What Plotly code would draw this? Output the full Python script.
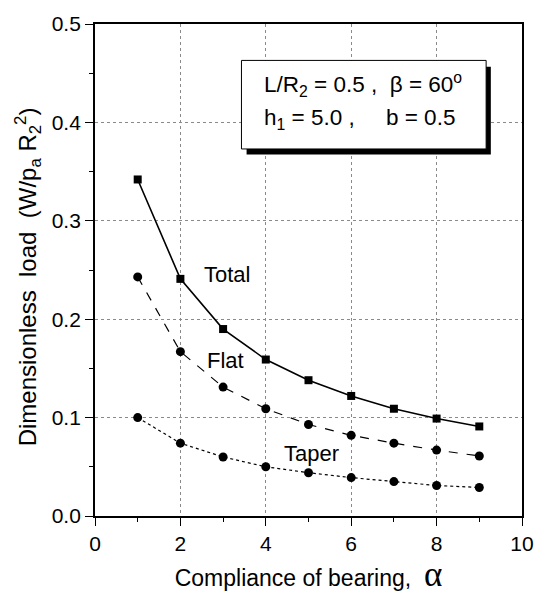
import plotly.graph_objects as go

alpha = [1, 2, 3, 4, 5, 6, 7, 8, 9]
total = [0.342, 0.241, 0.190, 0.159, 0.138, 0.122, 0.109, 0.099, 0.091]
flat = [0.243, 0.167, 0.131, 0.109, 0.093, 0.082, 0.074, 0.067, 0.061]
taper = [0.100, 0.074, 0.060, 0.050, 0.044, 0.039, 0.035, 0.031, 0.029]

series_labels = ["Total", "Flat", "Taper"]
label_pos = [(3.08, 0.245), (3.05, 0.158), (5.07, 0.064)]

x_ticks = [0, 2, 4, 6, 8, 10]
y_ticks = [0.0, 0.1, 0.2, 0.3, 0.4, 0.5]

FONT = "Liberation Sans, Arial, sans-serif"

fig = go.Figure()
fig.add_trace(go.Scatter(x=alpha, y=total, mode="lines+markers",
                         line=dict(color="black", width=1.6, dash="solid"),
                         marker=dict(symbol="square", size=8, color="black")))
fig.add_trace(go.Scatter(x=alpha, y=flat, mode="lines+markers",
                         line=dict(color="black", width=1.2, dash="dash"),
                         marker=dict(symbol="circle", size=9, color="black")))
fig.add_trace(go.Scatter(x=alpha, y=taper, mode="lines+markers",
                         line=dict(color="black", width=1.2, dash="dot"),
                         marker=dict(symbol="circle", size=9, color="black")))

for lab, (lx, ly) in zip(series_labels, label_pos):
    fig.add_annotation(x=lx, y=ly, text=lab, showarrow=False,
                       font=dict(family=FONT, size=22, color="black"))

# parameter box with shadow
fig.add_shape(type="rect", xref="paper", yref="paper",
              x0=0.355, x1=0.927, y0=0.735, y1=0.913,
              fillcolor="black", line=dict(width=0), layer="above")
fig.add_shape(type="rect", xref="paper", yref="paper",
              x0=0.343, x1=0.916, y0=0.746, y1=0.926,
              fillcolor="white", line=dict(color="black", width=1), layer="above")

nb = "\u00a0"
fig.add_annotation(xref="paper", yref="paper", x=0.392, y=0.878, xanchor="left", yanchor="middle",
                   text=f"L/R<sub>2</sub> = 0.5 ,{nb}{nb}β = 60<sup>o</sup>", showarrow=False,
                   font=dict(family=FONT, size=22.5, color="black"))
fig.add_annotation(xref="paper", yref="paper", x=0.392, y=0.806, xanchor="left", yanchor="middle",
                   text=f"h<sub>1</sub> = 5.0 ,{nb}{nb}{nb}{nb}{nb}b = 0.5", showarrow=False,
                   font=dict(family=FONT, size=22.5, color="black"))

# y axis title
fig.add_annotation(xref="paper", yref="paper", x=-0.157, y=0.487, xanchor="center", yanchor="middle",
                   textangle=-90, showarrow=False,
                   text="Dimensionless" + nb + nb + "load" + nb + nb + "(W/p<sub>a</sub> R<sub>2</sub><sup>2</sup>)",
                   font=dict(family=FONT, size=24, color="black"))

axis_common = dict(showline=True, linecolor="black", linewidth=1.8, mirror=True,
                   ticks="outside", ticklen=8, tickwidth=1.2, tickcolor="black",
                   showgrid=True, gridcolor="#8a8a8a", gridwidth=1, griddash="dot",
                   zeroline=False, tickfont=dict(family=FONT, size=21, color="black"))

fig.update_xaxes(range=[0, 10], tickvals=x_ticks, ticktext=[str(v) for v in x_ticks],
                 minor=dict(ticks="outside", ticklen=4, tickcolor="black", dtick=1, showgrid=False),
                 title=dict(text='Compliance of bearing,' + nb + nb + '<span style="font-family:Liberation Serif, Times New Roman, serif;font-size:35px">α</span>',
                            font=dict(family=FONT, size=23, color="black"), standoff=10),
                 **axis_common)
fig.update_yaxes(range=[0, 0.5], tickvals=y_ticks, ticktext=[f"{v:.1f}" for v in y_ticks],
                 minor=dict(ticks="outside", ticklen=4, tickcolor="black", dtick=0.05, showgrid=False),
                 **axis_common)

fig.update_layout(width=546, height=601, showlegend=False,
                  plot_bgcolor="white", paper_bgcolor="white",
                  margin=dict(l=95, r=23, t=15, b=85))

fig.write_html("out.html")
